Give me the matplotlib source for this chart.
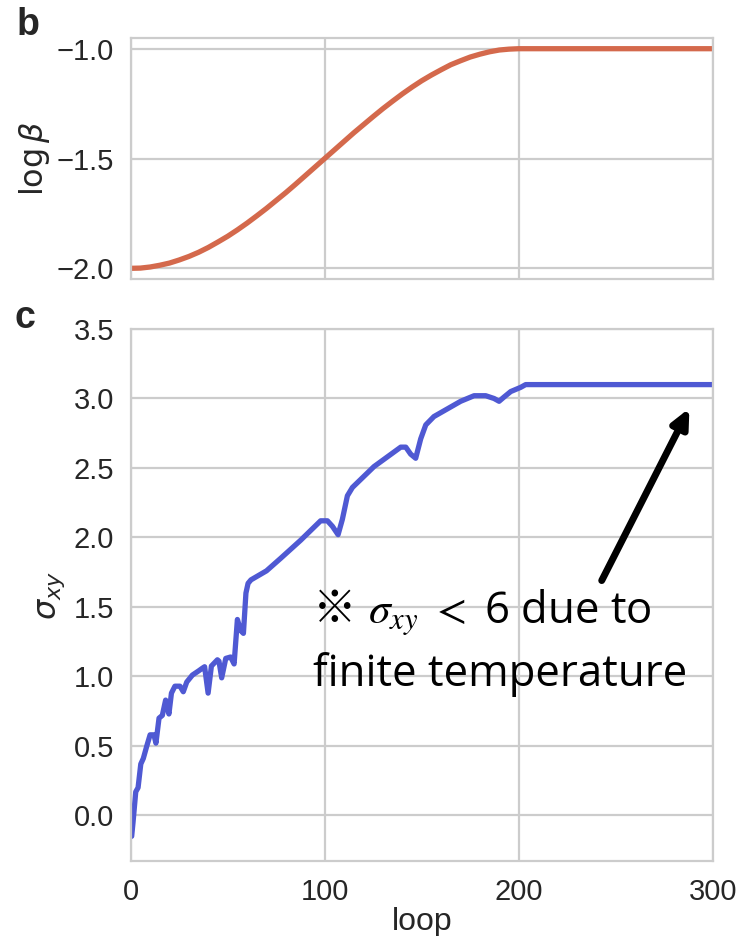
import matplotlib
matplotlib.use("Agg")
import matplotlib.pyplot as plt
import seaborn as sns

sns.set_theme(style="whitegrid")
plt.rcParams["font.family"] = ["Liberation Sans", "DejaVu Sans"]
plt.rcParams["mathtext.fontset"] = "dejavusans"

# inverse-temperature schedule (log beta) per loop
beta_loop = [0, 5, 10, 15, 20, 25, 30, 35, 40, 45, 50, 55, 60, 65, 70, 75,
             80, 85, 90, 95, 100, 105, 110, 115, 120, 125, 130, 135, 140,
             145, 150, 155, 160, 165, 170, 175, 180, 185, 190, 195, 200, 300]
log_beta = [-2.000, -1.999, -1.994, -1.986, -1.976, -1.962, -1.946, -1.927,
            -1.905, -1.880, -1.854, -1.825, -1.794, -1.761, -1.727, -1.691,
            -1.655, -1.617, -1.578, -1.539, -1.500, -1.461, -1.422, -1.383,
            -1.346, -1.309, -1.273, -1.239, -1.206, -1.175, -1.146, -1.120,
            -1.096, -1.073, -1.055, -1.038, -1.025, -1.014, -1.006, -1.002,
            -1.000, -1.000]

# Hall conductivity per loop
sigma_loop = [0.5, 1.2, 2.6, 3.8, 5.2, 6.5, 8.3, 10, 12, 13, 14.6, 16.3, 18,
              19.7, 21, 22.8, 25.4, 27.1, 28.9, 31.8, 35, 37, 38.1, 39.9,
              41.6, 44.7, 45.5, 46.9, 49, 51.5, 53.3, 55, 56.7, 58.1, 59.4,
              60.5, 62, 70, 77.3, 87.6, 97.9, 101.4, 104, 106.9, 109.1,
              111.7, 114.3, 125.4, 139.2, 141.8, 144.3, 146.9, 149.5, 152.1,
              156.3, 170.1, 177, 183, 187.3, 189.9, 192.4, 195.9, 201, 203.6,
              300]
sigma_xy = [-0.15, -0.05, 0.17, 0.20, 0.37, 0.41, 0.50, 0.58, 0.58, 0.52,
            0.70, 0.72, 0.83, 0.73, 0.88, 0.93, 0.93, 0.89, 0.96, 1.01, 1.04,
            1.06, 1.07, 0.88, 1.075, 1.12, 1.11, 0.99, 1.13, 1.14, 1.09, 1.41,
            1.33, 1.31, 1.60, 1.67, 1.695, 1.76, 1.85, 1.98, 2.12, 2.12, 2.08,
            2.02, 2.13, 2.30, 2.36, 2.51, 2.65, 2.65, 2.60, 2.57, 2.71, 2.81,
            2.87, 2.98, 3.02, 3.02, 3.00, 2.98, 3.01, 3.05, 3.08, 3.10, 3.10]

beta_color = "#d4694c"
sigma_color = "#4f59d3"
tick_fs = 21
label_fs = 23
note_fs = 31.5

fig = plt.figure(figsize=(7.38, 9.36), dpi=100)
ax1 = fig.add_axes([0.1771, 0.7016, 0.7886, 0.2581])
ax2 = fig.add_axes([0.1771, 0.0798, 0.7886, 0.5687])

for ax in (ax1, ax2):
    ax.tick_params(labelsize=tick_fs, colors="#262626", pad=6)
    ax.set_xlim(0, 300)
    ax.set_xticks([0, 100, 200, 300])
    for s in ax.spines.values():
        s.set_color("#cccccc")
        s.set_linewidth(1.6)
    ax.grid(color="#cccccc", linewidth=1.6)

ax1.plot(beta_loop, log_beta, color=beta_color, lw=3.8)
ax1.set_ylim(-2.05, -0.95)
ax1.set_yticks([-2.0, -1.5, -1.0])
ax1.set_yticklabels(["\u22122.0", "\u22121.5", "\u22121.0"])
ax1.set_xticklabels([])
ax1.set_ylabel(r"$\log\beta$", fontsize=label_fs, labelpad=3)

ax2.plot(sigma_loop, sigma_xy, color=sigma_color, lw=3.8)
ax2.set_ylim(-0.33, 3.5)
ax2.set_yticks([0.0, 0.5, 1.0, 1.5, 2.0, 2.5, 3.0, 3.5])
ax2.set_yticklabels(["0.0", "0.5", "1.0", "1.5", "2.0", "2.5", "3.0", "3.5"])
ax2.set_xlabel("loop", fontsize=label_fs, labelpad=1)
ax2.set_ylabel(r"$\sigma_{xy}$", fontsize=label_fs, labelpad=5)

ax2.annotate("", xy=(288.0, 2.93), xytext=(242.8, 1.69),
             arrowprops=dict(arrowstyle="-|>,head_length=0.9,head_width=0.42",
                             color="black", lw=5, shrinkA=0, shrinkB=0))

# note about finite temperature, drawn as three runs of text
note_font = ["Open Sans", "DejaVu Sans"]
ax2.text(94.0, 1.385, "\u203b", fontsize=note_fs,
         family=["Noto Sans CJK JP", "DejaVu Sans"],
         ha="left", va="baseline", color="black")
ax2.text(122.5, 1.385, r"$\sigma_{xy}$ $<$ 6 due to", fontsize=note_fs,
         family=note_font, math_fontfamily="stix",
         ha="left", va="baseline", color="black")
ax2.text(94.0, 0.93, "finite temperature", fontsize=note_fs,
         family=note_font, ha="left", va="baseline", color="black")

fig.text(28 / 738, 1 - 25 / 936, "b", fontsize=27, fontweight="bold",
         ha="center", va="center", color="#262626")
fig.text(25 / 738, 1 - 318 / 936, "c", fontsize=27, fontweight="bold",
         ha="center", va="center", color="#262626")

fig.savefig("out.png", dpi=100)
